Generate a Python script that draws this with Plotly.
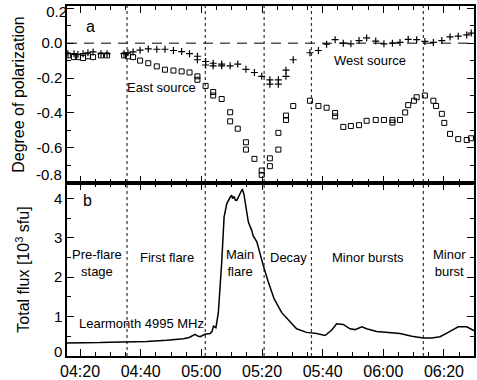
import datetime as dt
import plotly.graph_objects as go
from plotly.subplots import make_subplots

BASE = dt.datetime(2000, 1, 1, 4, 0)

def tm(m):
    return BASE + dt.timedelta(minutes=m)

# ---- Panel a: degree of polarization (minutes after 04:00) ----
plus_min = [16.0, 18.0, 19.3, 21.0, 22.6, 24.3, 26.9, 28.9, 34.5, 35.8, 37.5, 39.8,
            42.5, 45.3, 48.0, 50.8, 53.5, 56.1, 58.7, 58.7, 61.4, 61.4, 63.9, 63.9,
            66.7, 66.7, 69.5, 72.0, 74.7, 77.5, 79.9, 82.6, 82.6, 85.4, 85.4, 87.9,
            87.9, 90.3, 95.8, 98.6, 101.3, 104.1, 106.8, 109.3, 112.0, 114.5, 117.5,
            120.2, 123.0, 125.5, 128.2, 131.0, 133.7, 136.5, 139.3, 142.0, 144.7,
            147.5, 149.0]
plus_val = [-0.06, -0.06, -0.065, -0.06, -0.055, -0.05, -0.06, -0.06, -0.06, -0.055,
            -0.05, -0.04, -0.033, -0.035, -0.035, -0.042, -0.048, -0.06, -0.075,
            -0.095, -0.105, -0.125, -0.115, -0.13, -0.12, -0.13, -0.13, -0.12, -0.15,
            -0.168, -0.19, -0.21, -0.235, -0.21, -0.235, -0.19, -0.155, -0.095, -0.055,
            -0.042, -0.006, 0.02, 0.0, -0.004, 0.015, 0.03, 0.012, -0.004, 0.0, 0.004,
            0.022, 0.02, 0.01, 0.004, 0.015, 0.036, 0.04, 0.047, 0.058]

square_min = [16.0, 18.0, 19.3, 21.0, 22.6, 24.3, 26.9, 28.9, 34.5, 35.8, 37.5, 39.8,
              42.5, 45.3, 48.0, 50.8, 53.5, 56.1, 58.7, 58.7, 61.4, 63.9, 63.9, 66.7,
              69.5, 69.5, 72.0, 74.7, 74.7, 77.5, 79.9, 79.9, 82.6, 82.6, 85.4, 85.4,
              87.9, 87.9, 90.3, 95.8, 98.6, 101.3, 104.1, 104.1, 106.8, 109.3, 112.0,
              114.5, 117.5, 120.2, 123.0, 123.0, 125.5, 127.2, 128.2, 130.1, 131.0,
              133.7, 136.5, 137.4, 139.3, 140.1, 142.0, 144.7, 147.5, 148.9]
square_val = [-0.07, -0.08, -0.08, -0.085, -0.075, -0.08, -0.07, -0.07, -0.07, -0.075,
              -0.08, -0.10, -0.115, -0.133, -0.152, -0.157, -0.162, -0.168, -0.19,
              -0.21, -0.245, -0.28, -0.30, -0.32, -0.396, -0.448, -0.49, -0.568, -0.61,
              -0.663, -0.73, -0.755, -0.66, -0.705, -0.514, -0.61, -0.415, -0.44, -0.36,
              -0.33, -0.36, -0.37, -0.40, -0.42, -0.48, -0.475, -0.47, -0.445, -0.44,
              -0.44, -0.44, -0.455, -0.44, -0.397, -0.355, -0.33, -0.31, -0.30, -0.33,
              -0.36, -0.405, -0.457, -0.52, -0.55, -0.555, -0.545]

# ---- Panel b: total flux, 10^3 sfu ----
flux_min = [15.7, 20.0, 26.6, 30.0, 37.6, 42.0, 48.6, 52.0, 54.1, 56.0, 57.9, 59.0,
            59.6, 61.2, 62.9, 63.5, 64.0, 64.8, 65.6, 66.7, 67.5, 68.4, 69.0, 69.5,
            70.0, 70.3, 70.8, 71.2, 71.7, 72.5, 73.0, 73.5, 74.0, 74.4, 75.0, 75.5,
            76.6, 77.1, 78.3, 79.3, 80.4, 82.0, 84.0, 86.5, 89.0, 91.4, 94.7, 98.0,
            100.8, 103.0, 104.6, 106.8, 109.0, 110.7, 112.9, 114.5, 117.8, 122.2,
            125.5, 129.4, 133.2, 136.0, 138.7, 141.4, 144.7, 147.5, 150.2]
flux_val = [0.33, 0.33, 0.34, 0.35, 0.36, 0.37, 0.40, 0.42, 0.44, 0.47, 0.55, 0.50,
            0.49, 0.55, 0.57, 0.62, 0.76, 0.72, 1.10, 2.36, 3.53, 3.87, 3.98, 4.03,
            4.08, 4.00, 4.05, 3.96, 3.95, 4.08, 4.15, 4.24, 4.12, 3.95, 3.70, 3.40,
            3.19, 3.05, 2.90, 2.60, 2.30, 1.90, 1.45, 1.10, 0.90, 0.69, 0.60, 0.57,
            0.52, 0.66, 0.82, 0.80, 0.69, 0.67, 0.74, 0.69, 0.62, 0.59, 0.57, 0.50,
            0.46, 0.46, 0.49, 0.60, 0.74, 0.74, 0.63]

# phase boundaries (minutes after 04:00)
phase_bounds = [35.5, 61.3, 80.7, 96.3, 133.2]

# phase labels: (minute, value, text)
phase_labels = [(25.6, 2.36, "Pre-flare<br>stage"),
                (48.8, 2.51, "First flare"),
                (72.8, 2.36, "Main<br>flare"),
                (88.6, 2.51, "Decay"),
                (115.0, 2.51, "Minor bursts"),
                (141.7, 2.36, "Minor<br>burst")]

tick_min = [20, 40, 60, 80, 100, 120, 140]
tick_text = ["04:20", "04:40", "05:00", "05:20", "05:40", "06:00", "06:20"]
# the end ticks get their labels nudged inside the frame, as in the original plot
pol_ticks = [-0.8, -0.6, -0.4, -0.2, 0.0, 0.2]
pol_tick_text = ["", "-0.6", "-0.4", "-0.2", "0.0", ""]
pol_bottom_label = (-0.755, "-0.8")
pol_top_label = (0.172, "0.2")
flux_ticks = [0, 1, 2, 3, 4]
flux_tick_text = ["", "1", "2", "3", "4"]
flux_end_labels = [(0.11, "0")]
x_start = 15.7
x_end = 149.9

ANN_FONT = dict(family="Liberation Sans, Arial", size=13, color="black")
YTICK_FONT = dict(family="Liberation Sans, Arial", size=15, color="black")
XTICK_FONT = dict(family="Liberation Sans, Arial", size=16, color="black")

fig = make_subplots(rows=2, cols=1, shared_xaxes=True, vertical_spacing=0)

fig.add_trace(go.Scatter(x=[tm(m) for m in plus_min], y=plus_val, mode="markers",
                         marker=dict(symbol="cross-thin", size=5,
                                     line=dict(width=1.2, color="black"), color="black"),
                         showlegend=False), row=1, col=1)
fig.add_trace(go.Scatter(x=[tm(m) for m in square_min], y=square_val, mode="markers",
                         marker=dict(symbol="square-open", size=5,
                                     line=dict(width=1.0, color="black"), color="black"),
                         showlegend=False), row=1, col=1)
fig.add_trace(go.Scatter(x=[tm(m) for m in flux_min], y=flux_val, mode="lines",
                         line=dict(color="black", width=1.5), showlegend=False),
              row=2, col=1)
# top tick label of panel a, drawn as a text label just left of the frame
fig.add_trace(go.Scatter(x=[tm(x_start)], y=[pol_top_label[0]], mode="text",
                         text=[pol_top_label[1]], textposition="middle left",
                         textfont=YTICK_FONT, cliponaxis=False, hoverinfo="skip",
                         showlegend=False), row=1, col=1)

# zero-polarization dashed line
fig.add_shape(type="line", xref="x domain", x0=0, x1=1, yref="y", y0=0, y1=0,
              line=dict(color="black", width=1, dash="10px,7px"))

# phase boundaries spanning both panels
for m in phase_bounds:
    fig.add_shape(type="line", xref="x", x0=tm(m), x1=tm(m), yref="paper", y0=0, y1=1,
                  line=dict(color="#333333", width=1.2, dash="dot"), layer="below")

ann = []
ann.append(dict(x=tm(23.3), y=0.093, xref="x", yref="y", text="a", showarrow=False,
                font=dict(family="Liberation Sans, Arial", size=16, color="black")))
ann.append(dict(x=tm(22.3), y=3.95, xref="x2", yref="y2", text="b", showarrow=False,
                font=dict(family="Liberation Sans, Arial", size=16, color="black")))
ann.append(dict(x=tm(47.0), y=-0.255, xref="x", yref="y", text="East source",
                showarrow=False, font=ANN_FONT))
ann.append(dict(x=tm(115.6), y=-0.10, xref="x", yref="y", text="West source",
                showarrow=False, font=ANN_FONT))
for m, v, t in phase_labels:
    ann.append(dict(x=tm(m), y=v, xref="x2", yref="y2", text=t, showarrow=False,
                    font=ANN_FONT))
ann.append(dict(x=tm(40.3), y=0.82, xref="x2", yref="y2", text="Learmonth 4995 MHz",
                showarrow=False, font=ANN_FONT))
ann.append(dict(x=0, y=pol_bottom_label[0], xref="paper", yref="y",
                text=pol_bottom_label[1], showarrow=False, xanchor="right", xshift=-3,
                font=YTICK_FONT))
for v, t in flux_end_labels:
    ann.append(dict(x=0, y=v, xref="paper", yref="y2", text=t, showarrow=False,
                    xanchor="right", xshift=-3, font=YTICK_FONT))

xcommon = dict(type="date", range=[tm(x_start), tm(x_end)],
               tickvals=[tm(m) for m in tick_min], ticktext=tick_text,
               ticks="inside", ticklen=7, tickwidth=1, tickcolor="black",
               minor=dict(dtick=300000, tick0=tm(0), ticks="inside", ticklen=4,
                          tickcolor="black", tickwidth=1),
               showline=True, linecolor="black", linewidth=1.5, mirror="ticks",
               showgrid=False, zeroline=False, tickfont=XTICK_FONT, automargin=False)

fig.update_xaxes(**xcommon)
fig.update_xaxes(showticklabels=False, row=1, col=1)
fig.update_xaxes(showticklabels=True, row=2, col=1)

ycommon = dict(ticks="inside", ticklen=7, tickwidth=1, tickcolor="black",
               showline=True, linecolor="black", linewidth=1.5, mirror="ticks",
               showgrid=False, zeroline=False, tickfont=YTICK_FONT,
               ticklabeloverflow="allow", automargin=False)
fig.update_yaxes(**ycommon)
fig.update_yaxes(range=[-0.802, 0.213], tickmode="array", tickvals=pol_ticks,
                 ticktext=pol_tick_text,
                 minor=dict(dtick=0.1, tick0=0, ticks="inside", ticklen=4,
                            tickcolor="black"),
                 title=dict(text="Degree of polarization", standoff=8,
                            font=dict(family="Liberation Sans, Arial", size=16,
                                      color="black")),
                 row=1, col=1)
fig.update_yaxes(range=[0, 4.39], tickmode="array", tickvals=flux_ticks,
                 ticktext=flux_tick_text,
                 minor=dict(dtick=0.5, tick0=0, ticks="inside", ticklen=4,
                            tickcolor="black"),
                 title=dict(text="Total flux [10<sup>3</sup> sfu]", standoff=20,
                            font=dict(family="Liberation Sans, Arial", size=16,
                                      color="black")),
                 row=2, col=1)

fig.update_layout(width=477, height=380, margin=dict(l=67, r=3, t=6, b=24),
                  paper_bgcolor="white", plot_bgcolor="white", annotations=ann)
fig.update_yaxes(domain=[0.494, 1.0], row=1, col=1)
fig.update_yaxes(domain=[0.0, 0.494], row=2, col=1)

fig.write_html("out.html")
